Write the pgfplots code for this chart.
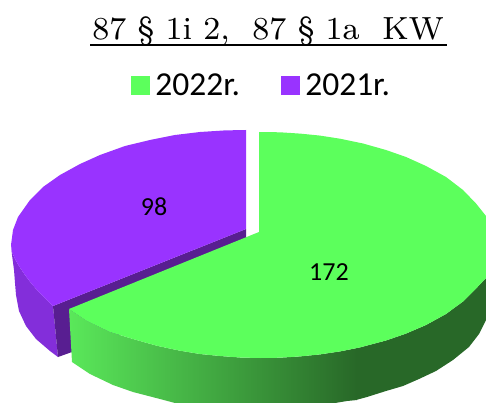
\documentclass[border=0pt]{standalone}
\usepackage{fontspec}
\setmainfont{Carlito}
\newfontfamily\titlefont[Extension=.otf]{lmroman8-regular}
\usepackage{pgfplots}
\pgfplotsset{compat=1.18}
\definecolor{grn}{RGB}{92,255,92}
\definecolor{vio}{RGB}{153,51,255}
\definecolor{vioside}{RGB}{131,46,218}
\definecolor{vioin}{RGB}{88,30,145}
\definecolor{grnL}{RGB}{90,232,90}
\definecolor{grnD}{RGB}{40,104,40}
\begin{document}
\begin{tikzpicture}
\begin{axis}[
  width=486pt,height=403pt,scale only axis,
  xmin=0,xmax=486,ymin=0,ymax=403,y dir=reverse,
  hide axis,clip=true,
  legend style={at={(0.27,0.789)},anchor=west,draw=none,fill=none,inner sep=0pt,outer sep=0pt,
    font=\fontsize{33.5}{33.5}\selectfont,legend columns=2,
    /tikz/every even column/.append style={column sep=39pt}},
  legend cell align=left,
]
\addlegendimage{legend image code/.code={\fill[grn] (0pt,-9pt) rectangle (18pt,9pt);\path[draw=none,fill=none] (0pt,0pt) -- (22pt,0pt);}}
\addlegendentry{2022r.}
\addlegendimage{legend image code/.code={\fill[vio] (0pt,-9pt) rectangle (18pt,9pt);\path[draw=none,fill=none] (0pt,0pt) -- (22pt,0pt);}}
\addlegendentry{2021r.}
% purple side
\addplot[fill=vioside,draw=none,forget plot] coordinates {
(11,245)(12,252)(15,259)(19,266)(25,275)(31,283)(37,290)(45,298)(53,306)(58,357)(50,351)(36,339)(26,326)(19,311)(16,295)(15,283)(14,270)(12,255)};
% purple inner wall
\addplot[fill=vioin,draw=none,forget plot] coordinates {
(246,229)(53,306)(58,357)(246,290)};
% purple top
\addplot[fill=vio,draw=none,forget plot] coordinates {
(246,130)(225,130.4)(200,132)(175,135)(150,140)(125,146)(100,155)(80,164)(60,175)(43,187)(30,200)(18,217)(13,230)(11,245)(12,252)(15,259)(19,266)(25,275)(31,283)(37,290)(45,298)(53,306)(246,229)};
% green side, shaded part
\addplot[left color=grnL,right color=grnD,draw=none,forget plot] coordinates {
(69,309)(87,321)(110,332)(133,339)(157,345.8)(180,350.7)(200,354)(220,356)(240,357.5)(260,358)(280,357.7)(300,356.4)(320,354.4)(340,351.4)(357,348)(357,400)(347,401)(335,403)(175,403)(160,399)(133,392)(113,385)(90,374)(72,362)};
% green side, dark part
\addplot[fill=grnD,draw=none,forget plot] coordinates {
(356,348)(360,347.4)(386,340.5)(406,333.6)(426,325)(446,314)(463,301.5)(476,288.6)(486,278)(486,320)(479,334)(469,347)(453,360)(436,371)(419,379)(403,386)(386,391)(367,397)(356,400)};
% green top
\addplot[fill=grn,draw=none,forget plot] coordinates {
(259,132)(280,132.3)(300,133.6)(320,135.6)(340,138.7)(363,143.5)(386,150)(406,157)(426,166)(446,177)(463,190)(476,203.5)(486,216)(486,278)(476,288.6)(463,301.5)(446,314)(426,325)(406,333.6)(386,340.5)(360,347.4)(340,351.4)(320,354.4)(300,356.4)(280,357.7)(260,358)(240,357.5)(220,356)(200,354)(180,350.7)(157,345.8)(133,339)(110,332)(87,321)(69,309)(259,232)};
\node[font=\fontsize{26}{26}\selectfont] at (axis cs:154,207) {98};
\node[font=\fontsize{26}{26}\selectfont] at (axis cs:329,272) {172};
\node[anchor=base,font=\titlefont\fontsize{32}{32}\selectfont] at (axis cs:268,40) {87 § 1i 2,\ \ 87 § 1a\ \ KW};
\draw[line width=1.6pt] (axis cs:90,45) -- (axis cs:447,45);
\path (axis cs:0,0) rectangle (axis cs:486,403);
\end{axis}
\end{tikzpicture}
\end{document}
